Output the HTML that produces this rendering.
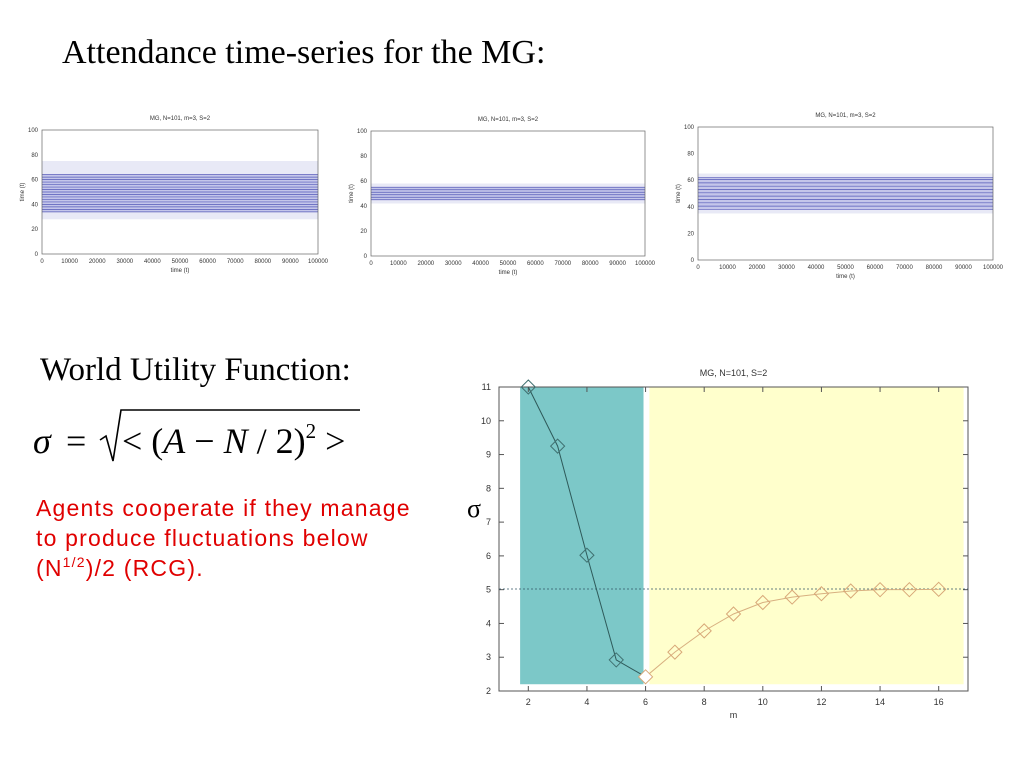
<!DOCTYPE html>
<html><head><meta charset="utf-8"><style>
body{margin:0;background:#fff;width:1024px;height:768px;overflow:hidden}
svg{display:block}
</style></head><body>
<svg id="s" width="1024" height="768" xmlns="http://www.w3.org/2000/svg">
<text x="62" y="63" font-family="Liberation Serif, serif" font-size="34" fill="#000">Attendance time-series for the MG:</text>
<text x="40" y="380" font-family="Liberation Serif, serif" font-size="33" fill="#000">World Utility Function:</text>
<g font-family="Liberation Serif, serif" font-size="36">
<text x="33" y="453" font-style="italic">σ</text>
<text x="66" y="453">=</text>
<polyline points="100,440 106,436 113,461 121,410 360,410" fill="none" stroke="#000" stroke-width="1.6"/>
<text x="122" y="453">&lt; (<tspan font-style="italic">A</tspan> − <tspan font-style="italic">N</tspan> / 2)<tspan font-size="21" dy="-15">2</tspan><tspan dy="15"> &gt;</tspan></text>
</g>
<g font-family="Liberation Sans, sans-serif" font-size="23" fill="#e00000" letter-spacing="1.2">
<text x="36" y="516">Agents cooperate if they manage</text>
<text x="36" y="546">to  produce fluctuations below</text>
<text x="36" y="576">(N<tspan font-size="14" dy="-9">1/2</tspan><tspan dy="9">)/2 (RCG).</tspan></text>
</g>
<g id="minis"></g>
<g id="main"></g>
</svg>
<script>
// ===== main chart data =====
const mValues = [2,3,4,5,6,7,8,9,10,11,12,13,14,15,16];
const sigmaValues = [11,9.25,6.02,2.92,2.42,3.15,3.78,4.28,4.62,4.78,4.88,4.96,5.0,5.0,5.01];
const xTicks = [2,4,6,8,10,12,14,16];
const yTicks = [2,3,4,5,6,7,8,9,10,11];
const randomLevel = [5.02];
// ===== mini chart data =====
const miniXTicks = [0,10000,20000,30000,40000,50000,60000,70000,80000,90000,100000];
const miniYTicks = [0,20,40,60,80,100];
const mini1Levels = [34,36,38,40,42,44,46,48,50,52,54,56,58,60,62,64];
const mini1Spread = [28,75];
const mini2Levels = [45,47,49,51,53,55];
const mini2Spread = [42,58];
const mini3Levels = [38,40.5,43,45.5,48,50.5,53,55.5,58,60.5,62];
const mini3Spread = [35,65];

const NS='http://www.w3.org/2000/svg';
function mk(tag,attrs,parent){const e=document.createElementNS(NS,tag);for(const k in attrs)e.setAttribute(k,attrs[k]);parent.appendChild(e);return e;}

const main=document.getElementById('main');
const L=499,R=968,T=387,B=691;
const xs=v=>L+(v-1)/(17-1)*(R-L);
const ys=v=>B-(v-2)/(11-2)*(B-T);
let t=mk('text',{x:(L+R)/2,y:376,'text-anchor':'middle','font-family':'Liberation Sans, sans-serif','font-size':9,fill:'#333'},main);
t.textContent='MG, N=101, S=2';


let r=mk('rect',{x:xs(1.72),y:T,width:xs(5.93)-xs(1.72),height:ys(2.2)-T,fill:'#7cc8c8'},main);


r=mk('rect',{x:xs(6.13),y:T,width:xs(16.85)-xs(6.13),height:ys(2.2)-T,fill:'#ffffcc'},main);


r=mk('rect',{x:L,y:T,width:R-L,height:B-T,fill:'none',stroke:'#555','stroke-width':1},main);


xTicks.forEach(v=>{
  mk('line',{x1:xs(v),x2:xs(v),y1:B,y2:B-5,stroke:'#555'},main);
  mk('line',{x1:xs(v),x2:xs(v),y1:T,y2:T+5,stroke:'#555'},main);
  const tx=mk('text',{x:xs(v),y:B+14,'text-anchor':'middle','font-family':'Liberation Sans, sans-serif','font-size':9,fill:'#333'},main);
  tx.textContent=v;
  
  
});
yTicks.forEach(v=>{
  mk('line',{x1:L,x2:L+5,y1:ys(v),y2:ys(v),stroke:'#555'},main);
  mk('line',{x1:R,x2:R-5,y1:ys(v),y2:ys(v),stroke:'#555'},main);
  const tx=mk('text',{x:L-8,y:ys(v)+3,'text-anchor':'end','font-family':'Liberation Sans, sans-serif','font-size':9,fill:'#333'},main);
  tx.textContent=v;
  
  
});
t=mk('text',{x:(L+R)/2,y:718,'text-anchor':'middle','font-family':'Liberation Sans, sans-serif','font-size':9,fill:'#333'},main);
t.textContent='m';


t=mk('text',{x:467,y:517,'font-family':'Liberation Serif, serif','font-size':26,fill:'#000'},main);
t.textContent='σ';


let ln=mk('line',{x1:L,x2:R,y1:ys(randomLevel[0]),y2:ys(randomLevel[0]),stroke:'#335566','stroke-width':0.8,'stroke-dasharray':'2,2'},main);


const split=4;
let p1=mk('polyline',{points:mValues.slice(0,split+1).map((m,i)=>xs(m)+','+ys(sigmaValues[i])).join(' '),fill:'none',stroke:'#2e5a5a','stroke-width':1},main);


let p2=mk('polyline',{points:mValues.slice(split).map((m,i)=>xs(m)+','+ys(sigmaValues[i+split])).join(' '),fill:'none',stroke:'#d8b080','stroke-width':1},main);


mValues.forEach((m,i)=>{
  const cx=xs(m),cy=ys(sigmaValues[i]),d=7;
  const col=i<split?'#3f7070':'#d8a878';
  const pt=mk('polygon',{points:`${cx},${cy-d} ${cx+d},${cy} ${cx},${cy+d} ${cx-d},${cy}`,fill:i===split?'#fff':'none',stroke:col,'stroke-width':1},main);
  
  
});

const minis=document.getElementById('minis');
function mini(box,levels,spread,name){
  const g=mk('g',{},minis);
  
  
  const [l,tp,rt,bt]=box;
  const mx=v=>l+v/100000*(rt-l), my=v=>bt-v/100*(bt-tp);
  mk('rect',{x:l,y:my(spread[1]),width:rt-l,height:my(spread[0])-my(spread[1]),fill:'#e8e9f6'},g);
  mk('rect',{x:l,y:my(levels[levels.length-1]),width:rt-l,height:my(levels[0])-my(levels[levels.length-1]),fill:'#c4c6ea'},g);
  levels.forEach(v=>mk('line',{x1:l,x2:rt,y1:my(v),y2:my(v),stroke:'#5559b8','stroke-width':0.7},g));
  mk('rect',{x:l,y:tp,width:rt-l,height:bt-tp,fill:'none',stroke:'#666','stroke-width':0.7},g);
  miniXTicks.forEach(v=>{const tx=mk('text',{x:mx(v),y:bt+9,'text-anchor':'middle','font-family':'Liberation Sans, sans-serif','font-size':6,fill:'#333'},g);tx.textContent=v;
    
    });
  miniYTicks.forEach(v=>{const tx=mk('text',{x:l-4,y:my(v)+2,'text-anchor':'end','font-family':'Liberation Sans, sans-serif','font-size':6,fill:'#333'},g);tx.textContent=v;
    
    });
  let tt=mk('text',{x:(l+rt)/2,y:tp-10,'text-anchor':'middle','font-family':'Liberation Sans, sans-serif','font-size':6,fill:'#333'},g);tt.textContent='MG, N=101, m=3, S=2';
  
  
  tt=mk('text',{x:(l+rt)/2,y:bt+18,'text-anchor':'middle','font-family':'Liberation Sans, sans-serif','font-size':6,fill:'#333'},g);tt.textContent='time (t)';
  
  
  tt=mk('text',{x:l-18,y:(tp+bt)/2,'text-anchor':'middle','font-family':'Liberation Sans, sans-serif','font-size':6,fill:'#333',transform:`rotate(-90 ${l-18} ${(tp+bt)/2})`},g);tt.textContent='time (t)';
  
  
}
mini([42,130,318,254],mini1Levels,mini1Spread,'attendance-chart-1');
mini([371,131,645,256],mini2Levels,mini2Spread,'attendance-chart-2');
mini([698,127,993,260],mini3Levels,mini3Spread,'attendance-chart-3');
</script>
</body></html>
